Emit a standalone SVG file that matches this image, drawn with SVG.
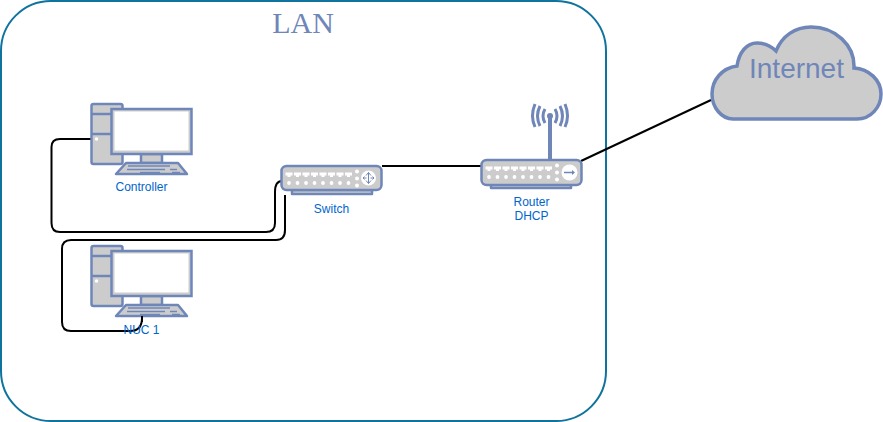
<svg xmlns="http://www.w3.org/2000/svg" width="883" height="422" viewBox="0 0 883 422">
<style>
.s{fill:#ccc;stroke:#6f86b8;stroke-width:2.500;stroke-linejoin:round}
.c{fill:none;stroke:#000;stroke-width:2}
.l{font:12px "Liberation Sans",Arial,sans-serif;fill:#0066cc;text-anchor:middle}
.d{fill:#fff}
.k{fill:none;stroke:#6f86b8;stroke-width:1.600}
</style>
<defs>
<g id="pc">
<rect class="s" x="91.500" y="104" width="31" height="60" rx="2"/>
<path class="s" fill="none" d="M91.500 114H111M91.500 134H111"/>
<circle class="d" cx="96.500" cy="139" r="1.800"/>
<rect class="s" x="141" y="154" width="21" height="9"/>
<path class="s" d="M126 163H178L187 174H116Z"/>
<path class="k" d="M128 166H170M127 169.500H165M140 172.500H160M170 169.500H177M172 172.500H180"/>
<rect x="111.500" y="109" width="80" height="45" fill="#ccc" stroke="#6f86b8" stroke-width="2.500"/>
<rect x="114.500" y="111.500" width="74" height="39" fill="#fff"/>
</g>
<g id="ports">
<path class="d" d="M4 6.500h7v3h-2v1.500h-3v-1.500H4zM12.500 6.500h7v3h-2v1.500h-3v-1.500h-2zM21 6.500h7v3h-2v1.500h-3v-1.500h-2zM29.500 6.500h7v3h-2v1.500h-3v-1.500h-2zM38 6.500h7v3h-2v1.500h-3v-1.500h-2zM46.500 6.500h7v3h-2v1.500h-3v-1.500h-2zM55 6.500h7v3h-2v1.500h-3v-1.500h-2zM63.500 6.500h7v3h-2v1.500h-3v-1.500h-2z"/>
<g class="d"><circle cx="7.500" cy="17" r="1.900"/><circle cx="16" cy="17" r="1.900"/><circle cx="24.500" cy="17" r="1.900"/><circle cx="33" cy="17" r="1.900"/><circle cx="41.500" cy="17" r="1.900"/><circle cx="50" cy="17" r="1.900"/><circle cx="58.500" cy="17" r="1.900"/><circle cx="67" cy="17" r="1.900"/><circle cx="75.500" cy="5.500" r="2"/><circle cx="75.500" cy="12.500" r="2"/><circle cx="75.500" cy="19.500" r="2"/></g>
</g>
</defs>
<g id="lan">
<rect x="1" y="1" width="605" height="420" rx="50" fill="#fff" stroke="#10739e" stroke-width="2"/>
<text x="303" y="33" style="font:30px 'Liberation Serif','Times New Roman',serif;fill:#6f86b8;text-anchor:middle">LAN</text>
</g>
<g id="connectors">
<path class="c" d="M91 139H60Q51.500 139 51.500 147V223Q51.500 232 60 232H266Q275 232 275 223V192Q275 181 282 181"/>
<path class="c" d="M285 195V230Q285 240 276 240H71Q62 240 62 249V322Q62 331 71 331H130Q142 331 142 318"/>
<path class="c" d="M382 166H481"/>
<path class="c" d="M581 161L711 100"/>
</g>
<g id="controller">
<use href="#pc"/>
<text class="l" x="141.500" y="191">Controller</text>
</g>
<g id="nuc1">
<use href="#pc" y="142"/>
<path class="c" d="M142 316V322" />
<text class="l" x="141.500" y="334">NUC 1</text>
</g>
<g id="switch">
<path class="s" d="M292 190H372V194H292Z" stroke-width="1.500"/>
<rect class="s" x="281.500" y="166" width="100" height="24" rx="5"/>
<use href="#ports" x="281.500" y="166"/>
<circle class="d" cx="368.500" cy="178" r="7.500"/>
<path d="M368.500 172.500V183.500M363 178H366.500M374 178H370.500M366 175.500L368.500 172.500L371 175.500M366 180.500L368.500 183.500L371 180.500M364.500 176.500L363 178L364.500 179.500M372.500 176.500L374 178L372.500 179.500" fill="none" stroke="#6f86b8" stroke-width="1"/>
<text class="l" x="331.500" y="213">Switch</text>
</g>
<g id="router">
<path d="M550 160V116" stroke="#6f86b8" stroke-width="4" fill="none"/>
<circle cx="550" cy="116" r="3" fill="#6f86b8"/>
<path d="M545 109Q541 116 545 123M555 109Q559 116 555 123M540 106Q535 116 540 126M560 106Q565 116 560 126M535 104Q530 116 535 127M565 104Q570 116 565 127" fill="none" stroke="#6f86b8" stroke-width="3"/>
<path class="s" d="M491 184H571V188H491Z" stroke-width="1.500"/>
<rect class="s" x="481.500" y="160" width="100" height="25" rx="5"/>
<use href="#ports" x="481.500" y="160"/>
<circle class="d" cx="569.500" cy="172.500" r="8"/>
<path d="M564 172.500H573" stroke="#6f86b8" stroke-width="1.500"/><path d="M572 170L575 172.500L572 175Z" fill="#6f86b8"/>
<text class="l" x="531.500" y="206">Router</text>
<text class="l" x="531.500" y="220">DHCP</text>
</g>
<g id="internet">
<path d="M733 119H857C871 119 881 107 881 94C881 80 869 69 854 68C855 45 835 27 811 27C795 27 782 36 776 51C771 46 765 43 757 43C747 43 739 52 737 66C722 68 712 80 712 94C712 108 722 119 733 119Z" fill="#ccc" stroke="#6f86b8" stroke-width="3.500"/>
<text x="796.500" y="78" style="font:28px 'Liberation Sans',Arial,sans-serif;fill:#6f86b8;text-anchor:middle">Internet</text>
</g>
</svg>
